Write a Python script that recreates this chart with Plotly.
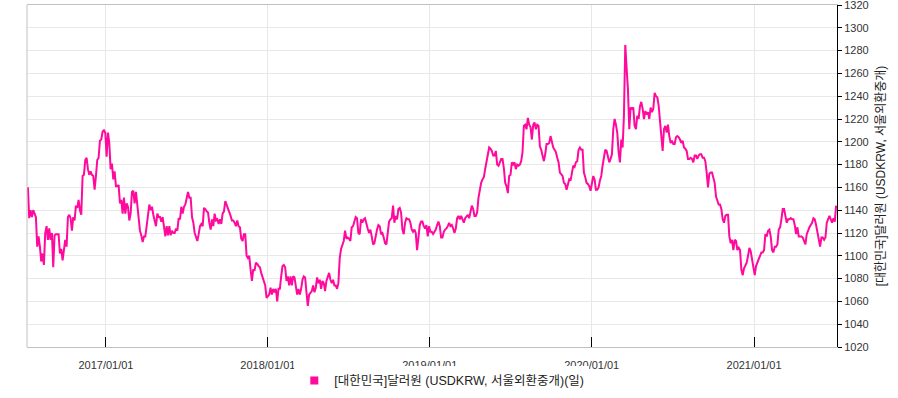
import pandas as pd
import plotly.graph_objects as go

seg1_start, seg1_end = "2016-07-09", "2017-07-20"
seg1 = [1160,1133,1140,1134,1140,1136,1134,1108,1117,1108,1095,1102,1092,1120,1126,1114,1124,1114,1120,1090,
        1118,1119,1119,1119,1102,1106,1096,1108,1114,1108,1134,1136,1133,1122,1134,1131,1144,1142,1149,1140,
        1136,1170,1171,1184,1186,1176,1171,1174,1171,1170,1158,1170,1184,1186,1201,1202,1209,1210,1208,1187,
        1208,1199,1176,1181,1167,1174,1161,1161,1162,1146,1149,1137,1151,1137,1146,1143,1131,1137,1156,1157,
        1146,1156,1144,1131,1122,1118,1112,1117,1117,1126,1137,1145,1140,1143,1136,1131,1126,1137,1134,1134,
        1130,1134,1126,1117,1126,1118,1126,1118,1122,1120,1120,1124,1122,1133,1132,1143,1137,1143,1145,1150,
        1156,1151,1151,1134,1129,1120]

seg2_start, seg2_end = "2017-07-23", "2018-07-24"
seg2 = [1117,1113,1119,1126,1128,1126,1142,1141,1139,1138,1129,1123,1132,1126,1137,1131,1132,1128,1132,1128,
        1137,1139,1148,1145,1141,1138,1135,1131,1131,1129,1126,1131,1126,1125,1115,1113,1119,1119,1100,1098,
        1100,1088,1078,1088,1087,1094,1093,1091,1090,1085,1081,1079,1074,1063,1065,1066,1072,1066,1071,1068,
        1071,1060,1071,1071,1082,1091,1092,1090,1078,1082,1074,1082,1074,1082,1081,1072,1066,1071,1066,1071,
        1079,1082,1081,1068,1056,1066,1068,1069,1074,1068,1072,1081,1076,1079,1071,1078,1076,1069,1078,1082,
        1085,1079,1076,1079,1074,1074,1071,1076,1098,1106,1110,1113,1122,1115,1116,1115,1113,1125,1126,1131,
        1134,1133,1120]

seg3_start, seg3_end = "2018-07-27", "2019-06-29"
seg3 = [1119,1132,1129,1132,1133,1127,1124,1120,1123,1117,1110,1111,1119,1123,1127,1126,1119,1120,1116,1111,
        1110,1119,1130,1132,1133,1144,1129,1135,1132,1141,1142,1138,1123,1119,1129,1133,1132,1132,1129,1123,
        1121,1123,1120,1105,1120,1127,1130,1130,1126,1124,1127,1117,1126,1121,1121,1119,1121,1123,1127,1130,
        1126,1116,1116,1121,1123,1124,1126,1129,1126,1127,1124,1120,1124,1133,1135,1132,1135,1132,1129,1133,
        1135,1136,1133,1139,1144,1141,1135,1135,1138,1151,1160,1164,1167,1169,1176,1182,1191,1195,1194,1192,
        1188,1188,1192,1180,1179,1183,1185,1185,1177,1164,1161,1155,1170]

seg4_start, seg4_end = "2019-07-02", "2020-07-09"
seg4 = [1171,1182,1180,1182,1176,1180,1179,1180,1183,1191,1214,1215,1211,1221,1215,1213,1202,1215,1217,1211,
        1215,1214,1196,1193,1188,1183,1189,1198,1198,1199,1205,1199,1195,1193,1191,1186,1182,1173,1171,1170,
        1164,1163,1158,1163,1167,1166,1174,1179,1178,1182,1183,1193,1195,1193,1193,1173,1169,1164,1163,1161,
        1157,1166,1170,1167,1158,1158,1160,1166,1170,1179,1188,1193,1192,1188,1182,1185,1189,1211,1220,1215,
        1208,1191,1182,1202,1195,1223,1285,1265,1246,1211,1230,1229,1230,1214,1211,1223,1220,1231,1235,1229,
        1220,1227,1224,1226,1220,1230,1226,1229,1243,1240,1239,1232,1220,1208,1192,1211,1214,1208,1215,1205,
        1199,1201,1198,1198,1204]

seg5_start, seg5_end = "2020-07-12", "2021-07-05"
seg5 = [1205,1204,1202,1199,1201,1195,1194,1192,1185,1185,1186,1185,1182,1188,1188,1185,1188,1189,1189,1186,
        1186,1183,1173,1160,1172,1173,1173,1167,1164,1152,1148,1145,1145,1141,1132,1129,1135,1136,1136,1117,
        1111,1114,1105,1114,1113,1105,1107,1105,1088,1083,1089,1092,1094,1100,1107,1104,1097,1088,1083,1091,
        1095,1097,1100,1103,1103,1105,1119,1117,1122,1123,1117,1105,1103,1108,1108,1110,1123,1125,1132,1141,
        1141,1135,1129,1132,1132,1133,1132,1132,1127,1119,1125,1117,1117,1117,1116,1113,1110,1119,1123,1125,
        1127,1129,1133,1132,1127,1120,1116,1108,1116,1116,1114,1116,1129,1132,1135,1132,1129,1133,1130,1144]

tick_dates = ["2017-01-01", "2018-01-01", "2019-01-01", "2020-01-01", "2021-01-01"]
tick_labels = ["2017/01/01", "2018/01/01", "2019/01/01", "2020/01/01", "2021/01/01"]
y_ticks = list(range(1020, 1321, 20))
series_name = "[대한민국]달러원 (USDKRW, 서울외환중개)(일)"
axis_title = "[대한민국]달러원 (USDKRW, 서울외환중개)"

segments = [(seg1_start, seg1_end, seg1), (seg2_start, seg2_end, seg2), (seg3_start, seg3_end, seg3),
            (seg4_start, seg4_end, seg4), (seg5_start, seg5_end, seg5)]
dates, values = [], []
for s, e, vals in segments:
    dates.extend(pd.date_range(s, e, periods=len(vals)))
    values.extend(vals)

LINE = "#ff0a9c"
FONT = "Liberation Sans, Noto Sans CJK KR, sans-serif"

fig = go.Figure()
fig.add_trace(go.Scatter(x=dates, y=values, mode="lines", line=dict(color=LINE, width=2),
                         showlegend=False, hoverinfo="x+y"))
fig.add_trace(go.Scatter(x=[None], y=[None], mode="markers", name=series_name,
                         marker=dict(symbol="square", size=8, color=LINE), showlegend=True))

fig.update_layout(
    width=898, height=398,
    margin=dict(l=27, r=61, t=5, b=51, autoexpand=False),
    paper_bgcolor="white", plot_bgcolor="white",
    font=dict(family=FONT, size=11, color="#333333"),
    showlegend=True,
    legend=dict(orientation="h", xref="container", yref="container", x=0.492, xanchor="center",
                y=0.043, yanchor="middle", font=dict(size=12.5, color="#222222"),
                itemwidth=30, tracegroupgap=0),
    xaxis=dict(type="date", range=["2016-07-07", "2021-07-07"],
               tickmode="array", tickvals=tick_dates, ticktext=tick_labels,
               ticks="inside", ticklen=10, tickcolor="#000000", tickwidth=1,
               ticklabelstandoff=8, automargin=False,
               showgrid=True, gridcolor="#e8e8e8", gridwidth=1,
               showline=True, linecolor="#c0c0c0", linewidth=1, mirror=True,
               zeroline=False, tickfont=dict(size=11, color="#333333")),
    yaxis=dict(side="right", range=[1020, 1320], tickmode="array", tickvals=y_ticks,
               ticks="outside", ticklen=4, tickcolor="#000000", tickwidth=1,
               ticklabeloverflow="allow",
               showgrid=True, gridcolor="#e8e8e8", gridwidth=1,
               showline=True, linecolor="#000000", linewidth=1, automargin=False,
               zeroline=False, tickfont=dict(size=11, color="#333333"),
               title=dict(text=axis_title, font=dict(size=12, color="#222222"), standoff=8)),
    shapes=[dict(type="line", xref="paper", yref="paper", x0=0, x1=0, y0=0, y1=1,
                 line=dict(color="#c0c0c0", width=1))],
)

fig.write_html("out.html", config={"displayModeBar": False},
               post_script="document.body.style.margin='0';document.body.style.overflow='hidden';")
